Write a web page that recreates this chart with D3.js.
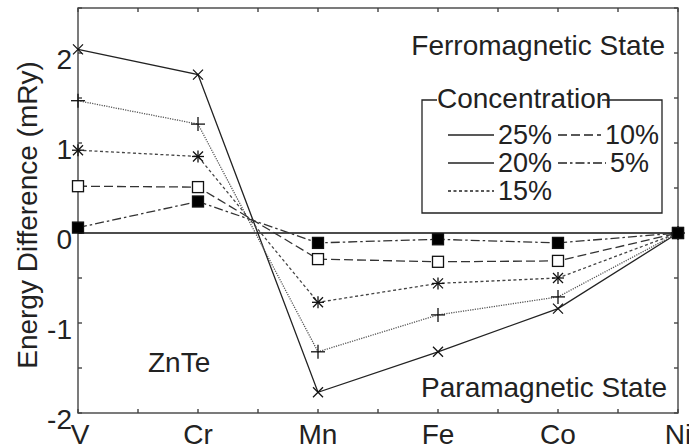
<!DOCTYPE html>
<html>
<head>
<meta charset="utf-8">
<script src="https://cdn.jsdelivr.net/npm/d3@7"></script>
<style>
  body { margin: 0; background: #fff; }
  text { font-family: "Liberation Sans", Arial, sans-serif; fill: #222; }
</style>
</head>
<body>
<svg width="689" height="446"></svg>
<script>
// ZnTe energy difference (mRy) by transition metal
var elements = ["V", "Cr", "Mn", "Fe", "Co", "Ni"];
var c25 = [2.04, 1.76, -1.77, -1.32, -0.84, 0];
var c20 = [1.47, 1.21, -1.32, -0.91, -0.71, 0];
var c15 = [0.92, 0.85, -0.77, -0.56, -0.50, 0];
var c10 = [0.52, 0.51, -0.29, -0.32, -0.31, 0];
var c5  = [0.06, 0.35, -0.11, -0.07, -0.11, 0];
var yTicks = [-2, -1, 0, 1, 2];

var svg = d3.select("svg"),
    pLeft = 78, pRight = 678, pTop = 8, pBottom = 413;

var x = d3.scalePoint().domain(elements).range([pLeft, pRight]);
var y = d3.scaleLinear().domain([-2, 2.5]).range([pBottom, pTop]);

var series = [
  { name: "25%", values: c25, dash: null, color: "#222", marker: "x" },
  { name: "20%", values: c20, dash: "1.2,1.2", color: "#555", marker: "plus" },
  { name: "15%", values: c15, dash: "3,2.5", color: "#444", marker: "star" },
  { name: "10%", values: c10, dash: "9,4", color: "#333", marker: "open" },
  { name: "5%",  values: c5,  dash: "9,3,2.5,3", color: "#333", marker: "filled" }
];

// frame and ticks
var frame = svg.append("g").attr("stroke", "#444").attr("stroke-width", 1.4).attr("fill", "none");
frame.append("rect").attr("x", pLeft).attr("y", pTop).attr("width", pRight - pLeft).attr("height", pBottom - pTop);

var halfSteps = d3.range(0, elements.length - 0.5, 0.5);
var xs = d3.scaleLinear().domain([0, elements.length - 1]).range([pLeft, pRight]);
halfSteps.forEach(function (h) {
  frame.append("line").attr("x1", xs(h)).attr("x2", xs(h)).attr("y1", pBottom).attr("y2", pBottom - 4);
  frame.append("line").attr("x1", xs(h)).attr("x2", xs(h)).attr("y1", pTop).attr("y2", pTop + 4);
});
d3.range(-2, 2.51, 0.5).forEach(function (v) {
  frame.append("line").attr("x1", pLeft).attr("x2", pLeft + 4).attr("y1", y(v)).attr("y2", y(v));
  frame.append("line").attr("x1", pRight).attr("x2", pRight - 4).attr("y1", y(v)).attr("y2", y(v));
});

// zero line
svg.append("line")
  .attr("x1", pLeft).attr("x2", pRight).attr("y1", y(0)).attr("y2", y(0))
  .attr("stroke", "#111").attr("stroke-width", 1.4);

// tick labels
svg.append("g").selectAll("text").data(yTicks).enter().append("text")
  .attr("x", 72).attr("y", function (d) { return y(d) + 16; })
  .attr("text-anchor", "end").style("font-size", "28px")
  .text(function (d) { return d; });

svg.append("g").selectAll("text").data(elements).enter().append("text")
  .attr("x", function (d) { return x(d) + (d === "V" ? 2 : 0); }).attr("y", 444)
  .attr("text-anchor", "middle").style("font-size", "28px")
  .text(function (d) { return d; });

svg.append("text")
  .attr("transform", "translate(37,215)rotate(-90)")
  .attr("text-anchor", "middle").style("font-size", "28px")
  .text("Energy Difference (mRy)");

// lines
var line = d3.line()
  .x(function (d, i) { return x(elements[i]); })
  .y(function (d) { return y(d); });

series.forEach(function (s) {
  svg.append("path")
    .datum(s.values)
    .attr("d", line)
    .attr("fill", "none")
    .attr("stroke", s.color)
    .attr("stroke-width", 1.3)
    .attr("stroke-dasharray", s.dash);
});

// markers
function drawMarker(g, type, cx, cy) {
  var m = g.append("g").attr("transform", "translate(" + cx + "," + cy + ")")
    .attr("stroke", "#111").attr("stroke-width", 1.3);
  if (type === "x" || type === "star") {
    var r = 5;
    m.append("line").attr("x1", -r).attr("y1", -r).attr("x2", r).attr("y2", r);
    m.append("line").attr("x1", -r).attr("y1", r).attr("x2", r).attr("y2", -r);
  }
  if (type === "plus" || type === "star") {
    var p = type === "plus" ? 7 : 6;
    m.append("line").attr("x1", -p).attr("x2", p);
    m.append("line").attr("y1", -p).attr("y2", p);
  }
  if (type === "open" || type === "filled") {
    m.append("rect").attr("x", -5.5).attr("y", -5.5).attr("width", 11).attr("height", 11)
      .attr("fill", type === "filled" ? "#000" : "#fff");
  }
}

series.forEach(function (s) {
  var g = svg.append("g");
  s.values.forEach(function (v, i) { drawMarker(g, s.marker, x(elements[i]), y(v)); });
});

// annotations
svg.append("text").attr("x", 665).attr("y", 55).attr("text-anchor", "end")
  .style("font-size", "28px").text("Ferromagnetic State");
svg.append("text").attr("x", 667).attr("y", 397).attr("text-anchor", "end")
  .style("font-size", "28px").text("Paramagnetic State");
svg.append("text").attr("x", 148).attr("y", 372)
  .style("font-size", "28px").text("ZnTe");

// legend
var lg = svg.append("g");
var bx0 = 422, bx1 = 662, by0 = 100, by1 = 213;
lg.append("path")
  .attr("d", "M437," + by0 + "H" + bx0 + "V" + by1 + "H" + bx1 + "V" + by0 + "H602")
  .attr("fill", "none").attr("stroke", "#222").attr("stroke-width", 1.3);
lg.append("text").attr("x", 437).attr("y", 108).style("font-size", "28px").text("Concentration");

var legendItems = [
  { s: series[0], lx: 448, ly: 135, tx: 498 },
  { s: series[1], lx: 448, ly: 163, tx: 498 },
  { s: series[2], lx: 448, ly: 191, tx: 498 },
  { s: series[3], lx: 558, ly: 135, tx: 605 },
  { s: series[4], lx: 558, ly: 163, tx: 610 }
];
legendItems.forEach(function (d) {
  var len = d.tx - d.lx - 4;
  lg.append("line").attr("x1", d.lx).attr("x2", d.lx + len).attr("y1", d.ly).attr("y2", d.ly)
    .attr("stroke", "#222").attr("stroke-width", 1.3)
    .attr("stroke-dasharray", d.s.name === "20%" ? null : d.s.dash);
  lg.append("text").attr("x", d.tx).attr("y", d.ly + 9).style("font-size", "27px").text(d.s.name);
});
</script>
</body>
</html>
